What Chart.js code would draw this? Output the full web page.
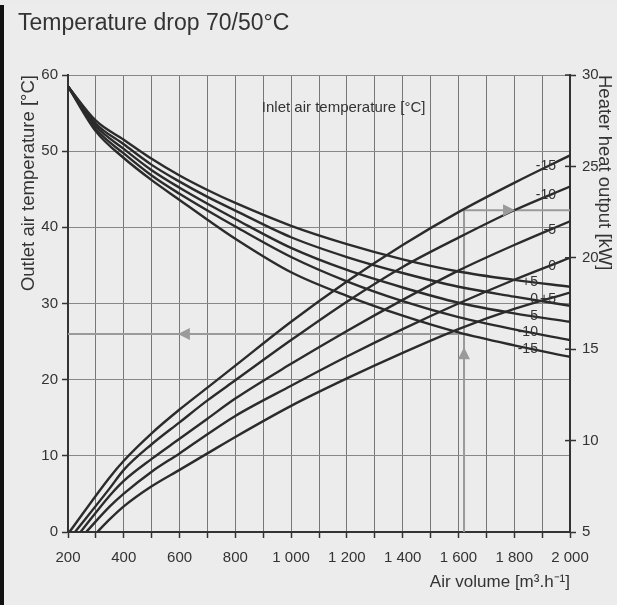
<!DOCTYPE html>
<html>
<head>
<meta charset="utf-8">
<script src="https://cdn.jsdelivr.net/npm/chart.js@4"></script>
<style>
  body { margin: 0; background: #fff; }
  #wrap { position: absolute; left: 0; top: 0; width: 617px; height: 605px; background: #ebebeb; }
  #strip { position: absolute; left: 0; top: 5px; width: 4px; height: 600px; background: #111; }
  #paper { position: absolute; left: 4px; top: 5px; width: 613px; height: 600px; background: #ececec; }
  canvas { position: absolute; left: 0; top: 0; }
</style>
</head>
<body>
<div id="wrap">
  <div id="strip"></div>
  <div id="paper"></div>
  <canvas id="myChart" width="617" height="605"></canvas>
</div>
<script>
// inlet air temperatures [°C]
const inletLabels = ['+5', '0', '-5', '-10', '-15'];

// outlet air temperature [°C] (left axis) against air volume
const airVolume = [200, 300, 400, 500, 600, 700, 800, 1000, 1200, 1400, 1600, 1800, 2000];
const outletPlus5  = [58.5, 54.0, 51.5, 49.0, 46.8, 44.9, 43.2, 40.2, 37.8, 35.8, 34.2, 33.1, 32.2];
const outletZero   = [58.5, 53.6, 50.9, 48.2, 46.0, 44.0, 42.2, 38.7, 36.1, 34.0, 32.2, 30.9, 29.7];
const outletMinus5 = [58.5, 53.3, 50.3, 47.5, 45.2, 43.1, 41.1, 37.3, 34.4, 32.1, 30.1, 28.7, 27.6];
const outletMinus10 = [58.5, 52.9, 49.7, 46.8, 44.4, 42.2, 40.1, 36.1, 32.9, 30.3, 28.2, 26.6, 25.2];
const outletMinus15 = [58.5, 52.6, 49.1, 46.2, 43.6, 41.0, 38.5, 34.1, 31.0, 28.4, 26.2, 24.5, 23.0];

// heater heat output [kW] (right axis)
const heatStartVolume = [305, 265, 245, 225, 205]; // where each curve leaves 5 kW (+5, 0, -5, -10, -15)
const heatVolume = [350, 400, 500, 600, 700, 800, 1000, 1200, 1400, 1600, 1800, 2000];
const heatPlus5  = [5.7, 6.4, 7.5, 8.4, 9.3, 10.2, 11.9, 13.4, 14.8, 16.1, 17.2, 18.1];
const heatZero   = [6.4, 7.1, 8.3, 9.3, 10.35, 11.35, 13.0, 14.6, 16.1, 17.5, 18.8, 20.0];
const heatMinus5 = [7.0, 7.8, 9.0, 10.1, 11.2, 12.3, 14.2, 16.0, 17.7, 19.3, 20.7, 22.0];
const heatMinus10 = [7.4, 8.4, 9.8, 11.0, 12.2, 13.3, 15.5, 17.6, 19.5, 21.1, 22.6, 23.9];
const heatMinus15 = [8.0, 8.9, 10.4, 11.7, 12.9, 14.1, 16.5, 18.7, 20.7, 22.5, 24.1, 25.6];

// worked example drawn in grey
const exampleVolume = 1620;
const exampleOutlet = 26;
const exampleOutput = 22.6;

const outletSeries = [outletPlus5, outletZero, outletMinus5, outletMinus10, outletMinus15];
const heatSeries = [heatPlus5, heatZero, heatMinus5, heatMinus10, heatMinus15];

const curveColor = '#2b2b2b';
const greyColor = '#9a9a9a';
const fontFamily = '"Liberation Sans", Arial, sans-serif';

let datasets = [];
outletSeries.forEach((s, i) => {
    datasets.push({
        data: airVolume.map((v, j) => ({x: v, y: s[j]})),
        yAxisID: 'y',
        borderColor: curveColor,
        borderWidth: 2.4,
        pointRadius: 0,
        cubicInterpolationMode: 'monotone'
    });
});
heatSeries.forEach((s, i) => {
    let pts = [{x: heatStartVolume[i], y: 5}];
    heatVolume.forEach((v, j) => pts.push({x: v, y: s[j]}));
    datasets.push({
        data: pts,
        yAxisID: 'y2',
        borderColor: curveColor,
        borderWidth: 2.4,
        pointRadius: 0,
        cubicInterpolationMode: 'monotone'
    });
});
// example reading lines
datasets.push({
    data: [{x: exampleVolume, y: 5}, {x: exampleVolume, y: exampleOutput}, {x: 2000, y: exampleOutput}],
    yAxisID: 'y2', borderColor: greyColor, borderWidth: 2, pointRadius: 0, tension: 0
});
datasets.push({
    data: [{x: exampleVolume, y: exampleOutlet}, {x: 200, y: exampleOutlet}],
    yAxisID: 'y', borderColor: greyColor, borderWidth: 2, pointRadius: 0, tension: 0
});

function valueAt(xs, ys, x) {
    for (let i = 1; i < xs.length; i++) {
        if (x <= xs[i]) {
            let t = (x - xs[i - 1]) / (xs[i] - xs[i - 1]);
            return ys[i - 1] + t * (ys[i] - ys[i - 1]);
        }
    }
    return ys[ys.length - 1];
}

function arrow(ctx, x, y, dir) {
    const len = 12, half = 6;
    ctx.beginPath();
    if (dir == 'right') { ctx.moveTo(x, y); ctx.lineTo(x - len, y - half); ctx.lineTo(x - len, y + half); }
    if (dir == 'left')  { ctx.moveTo(x, y); ctx.lineTo(x + len, y - half); ctx.lineTo(x + len, y + half); }
    if (dir == 'up')    { ctx.moveTo(x, y); ctx.lineTo(x - half, y + len); ctx.lineTo(x + half, y + len); }
    ctx.closePath();
    ctx.fill();
}

const extras = {
    id: 'extras',
    afterDraw(chart) {
        const ctx = chart.ctx;
        const xs = chart.scales.x, ys = chart.scales.y, ys2 = chart.scales.y2;
        ctx.save();
        // title
        ctx.fillStyle = '#333';
        ctx.font = '23px ' + fontFamily;
        ctx.textAlign = 'left';
        ctx.textBaseline = 'middle';
        ctx.fillText('Temperature drop 70/50°C', 18, 24);

        ctx.font = '15px ' + fontFamily;
        ctx.fillText('Inlet air temperature [°C]', xs.getPixelForValue(895), ys.getPixelForValue(55.7));

        // curve labels
        ctx.font = '14px ' + fontFamily;
        ctx.textAlign = 'right';
        outletSeries.forEach((s, i) => {
            ctx.fillText(inletLabels[i], xs.getPixelForValue(1885), ys.getPixelForValue(valueAt(airVolume, s, 1860)));
        });
        heatSeries.forEach((s, i) => {
            ctx.fillText(inletLabels[i], xs.getPixelForValue(1950), ys2.getPixelForValue(valueAt(heatVolume, s, 1925)));
        });

        // arrow heads
        ctx.fillStyle = greyColor;
        arrow(ctx, xs.getPixelForValue(1803), ys2.getPixelForValue(exampleOutput), 'right');
        arrow(ctx, xs.getPixelForValue(exampleVolume), ys2.getPixelForValue(15.1), 'up');
        arrow(ctx, xs.getPixelForValue(594), ys.getPixelForValue(exampleOutlet), 'left');

        // right axis ticks crossing the axis line
        ctx.strokeStyle = '#333';
        ctx.lineWidth = 1.5;
        ys2.ticks.forEach(t => {
            const py = ys2.getPixelForValue(t.value);
            ctx.beginPath();
            ctx.moveTo(xs.right - 5, py);
            ctx.lineTo(xs.right, py);
            ctx.stroke();
        });
        ctx.restore();
    }
};

const ctx = document.getElementById('myChart');
new Chart(ctx, {
    type: 'line',
    data: { datasets: datasets },
    plugins: [extras],
    options: {
        responsive: false,
        animation: false,
        layout: { padding: { top: 75, left: 0, right: 0, bottom: 0 } },
        plugins: { legend: { display: false }, tooltip: { enabled: false } },
        scales: {
            x: {
                type: 'linear', min: 200, max: 2000,
                afterFit: s => { s.height = 73; },
                ticks: {
                    stepSize: 100, autoSkip: false, maxRotation: 0, padding: 11,
                    color: '#333', font: { size: 15, family: fontFamily },
                    callback: v => v % 200 == 0 ? (v >= 1000 ? Math.floor(v / 1000) + ' ' + String(v % 1000).padStart(3, '0') : String(v)) : ''
                },
                grid: { color: '#777', lineWidth: 1, tickLength: 6, tickColor: '#333', tickWidth: 1.5 },
                border: { display: true, color: '#333', width: 2 },
                title: {
                    display: true, text: 'Air volume [m³.h⁻¹]', align: 'end', color: '#333',
                    font: { size: 17, family: fontFamily }, padding: { top: 0, bottom: 12 }
                }
            },
            y: {
                position: 'left', min: 0, max: 60,
                afterFit: s => { s.width = 68; },
                ticks: { stepSize: 10, padding: 4, color: '#333', font: { size: 15, family: fontFamily } },
                grid: { color: '#888', lineWidth: 1, tickLength: 6, tickColor: '#333', tickWidth: 1.5 },
                border: { display: true, color: '#333', width: 2 },
                title: {
                    display: true, text: 'Outlet air temperature [°C]', align: 'end', color: '#333',
                    font: { size: 18.5, family: fontFamily }, padding: { top: 18, bottom: 0 }
                }
            },
            y2: {
                position: 'right', min: 5, max: 30,
                afterFit: s => { s.width = 47; },
                ticks: { stepSize: 5, padding: 6, color: '#333', font: { size: 15, family: fontFamily } },
                grid: { drawOnChartArea: false, tickLength: 6, tickColor: '#333', tickWidth: 1.5 },
                border: { display: true, color: '#333', width: 2 },
                title: {
                    display: true, text: 'Heater heat output [kW]', align: 'end', color: '#333',
                    font: { size: 18.5, family: fontFamily }, padding: { top: 2, bottom: 0 }
                }
            }
        }
    }
});
</script>
</body>
</html>
